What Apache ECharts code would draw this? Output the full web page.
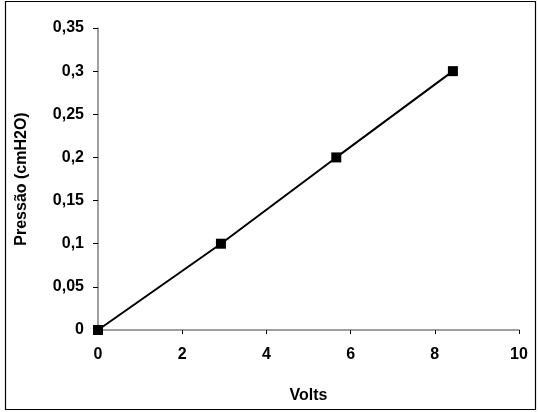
<!DOCTYPE html>
<html><head><meta charset="utf-8">
<script src="https://cdn.jsdelivr.net/npm/echarts@6/dist/echarts.min.js"></script>
<style>html,body{margin:0;padding:0;background:#fff}#c{width:538px;height:412px}</style>
</head><body><div id="c"></div>
<script>
var volts = [0, 2.92, 5.66, 8.43];
var pressao = [0, 0.1, 0.2, 0.3];
var xTitle = 'Volts';
var yTitle = 'Pressão (cmH2O)';

var chart = echarts.init(document.getElementById('c'), null, {renderer:'canvas'});
var font = 'Liberation Sans, Arial, sans-serif';
function fmt(v){ return String(Math.round(v*100)/100).replace('.', ','); }
chart.setOption({
  animation:false,
  graphic:[{type:'rect', shape:{x:5.5,y:1.5,width:530,height:408}, style:{fill:'none', stroke:'#000', lineWidth:1.2}, z:-1}],
  grid:{left:98, right:19, top:28, bottom:82},
  xAxis:{type:'value', min:0, max:10, interval:2,
    name:xTitle, nameLocation:'middle', nameGap:58,
    nameTextStyle:{fontFamily:font, fontWeight:'bold', fontSize:16, color:'#000'},
    axisLine:{lineStyle:{color:'#808080', width:1.5}},
    axisTick:{inside:false, length:4, lineStyle:{color:'#000'}},
    axisLabel:{fontFamily:font, fontWeight:'bold', fontSize:16, color:'#000', margin:17, formatter:fmt},
    splitLine:{show:false}},
  yAxis:{type:'value', min:0, max:0.35, interval:0.05,
    name:yTitle, nameLocation:'middle', nameGap:68, nameRotate:90,
    nameTextStyle:{fontFamily:font, fontWeight:'bold', fontSize:16, color:'#000'},
    axisLine:{show:true, lineStyle:{color:'#808080', width:1.5}},
    axisTick:{show:true, inside:false, length:5, lineStyle:{color:'#000'}},
    axisLabel:{fontFamily:font, fontWeight:'bold', fontSize:16, color:'#000', margin:14, formatter:fmt},
    splitLine:{show:false}},
  series:[{type:'line', data: volts.map(function(v,i){return [v, pressao[i]];}),
    symbol:'rect', symbolSize:10, itemStyle:{color:'#000'},
    lineStyle:{color:'#000', width:2}}]
});
</script></body></html>
